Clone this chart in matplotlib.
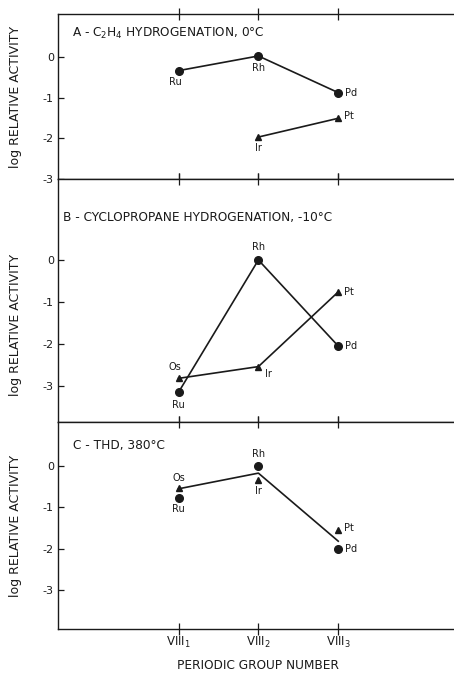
import matplotlib
matplotlib.use("Agg")
import matplotlib.pyplot as plt

# Gruppen VIII1, VIII2, VIII3
gruppen = [1, 2, 3]
gruppen_namen = ["VIII$_1$", "VIII$_2$", "VIII$_3$"]

# A - C2H4 Hydrierung, 0 C
a_kreis_metalle = ["Ru", "Rh", "Pd"]
a_kreis_werte = [-0.34, 0.02, -0.88]
a_dreieck_metalle = ["Ir", "Pt"]
a_dreieck_gruppen = [2, 3]
a_dreieck_werte = [-1.97, -1.51]

# B - Cyclopropan Hydrierung, -10 C
b_kreis_metalle = ["Ru", "Rh", "Pd"]
b_kreis_werte = [-3.15, 0.0, -2.05]
b_dreieck_metalle = ["Os", "Ir", "Pt"]
b_dreieck_werte = [-2.82, -2.54, -0.76]

# C - THD, 380 C
c_kreis_metalle = ["Ru", "Rh", "Pd"]
c_kreis_werte = [-0.77, 0.0, -2.02]
c_dreieck_metalle = ["Os", "Ir", "Pt"]
c_dreieck_werte = [-0.52, -0.34, -1.54]
c_linie_werte = [-0.55, -0.17, -1.82]

y_ticks = [0, -1, -2, -3]

plt.rcParams["font.family"] = ["DejaVu Sans"]
plt.rcParams["font.size"] = 7.5
farbe = "#1a1a1a"

fig = plt.figure(figsize=(4.54, 6.74), dpi=100)
links = 58 / 454
breite = 1 - links
ax_a = fig.add_axes([links, 1 - 179 / 674, breite, 165 / 674])
ax_b = fig.add_axes([links, 1 - 422 / 674, breite, 243 / 674])
ax_c = fig.add_axes([links, 1 - 629 / 674, breite, 207 / 674])


def achse(ax, ylim, ylabel_y):
    ax.set_xlim(-0.51, 4.45)
    ax.set_ylim(*ylim)
    ax.spines["right"].set_visible(False)
    for s in ax.spines.values():
        s.set_linewidth(1.0)
        s.set_color(farbe)
    ax.set_yticks(y_ticks)
    ax.set_yticklabels([str(t) for t in y_ticks])
    ax.tick_params(axis="y", direction="in", length=4, width=0.9, pad=3,
                   labelsize=8, colors=farbe)
    ax.set_xticks(gruppen)
    ax.tick_params(axis="x", direction="inout", length=8, width=0.9,
                   top=True, bottom=True, labelbottom=False, colors=farbe)
    ax.set_ylabel("log RELATIVE ACTIVITY", fontsize=9, color=farbe)
    ax.yaxis.set_label_coords(-0.09, ylabel_y)


def beschrifte(ax, xs, ys, namen, versatz):
    for x, y, n, (dx, dy) in zip(xs, ys, namen, versatz):
        ax.annotate(n, (x, y), xytext=(dx, dy), textcoords="offset points",
                    ha="center", va="center", fontsize=7, color=farbe)


kreis = dict(marker="o", markersize=5.5, color=farbe, linestyle="none")
dreieck = dict(marker="^", markersize=5, color=farbe, linestyle="none")
linie = dict(color=farbe, linewidth=1.2)

# Panel A
achse(ax_a, (-3, 1.05), 0.5)
ax_a.plot(gruppen, a_kreis_werte, **linie)
ax_a.plot(a_dreieck_gruppen, a_dreieck_werte, **linie)
ax_a.plot(gruppen, a_kreis_werte, **kreis)
ax_a.plot(a_dreieck_gruppen, a_dreieck_werte, **dreieck)
beschrifte(ax_a, gruppen, a_kreis_werte, a_kreis_metalle,
           [(-2, -8), (0, -9), (9, 0)])
beschrifte(ax_a, a_dreieck_gruppen, a_dreieck_werte, a_dreieck_metalle,
           [(0, -8), (8, 2)])
ax_a.text(0.035, 0.885, "A - C$_2$H$_4$ HYDROGENATION, 0°C",
          transform=ax_a.transAxes, ha="left", va="center", fontsize=8.7, color=farbe)

# Panel B
achse(ax_b, (-3.86, 1.93), 0.4)
ax_b.plot(gruppen[:2], b_kreis_werte[:2], **linie)
ax_b.plot(gruppen[1:], b_kreis_werte[1:], **linie)
ax_b.plot(gruppen, b_dreieck_werte, **linie)
ax_b.plot(gruppen, b_kreis_werte, **kreis)
ax_b.plot(gruppen, b_dreieck_werte, **dreieck)
beschrifte(ax_b, gruppen, b_kreis_werte, b_kreis_metalle,
           [(0, -9), (0, 9), (9, 0)])
beschrifte(ax_b, gruppen, b_dreieck_werte, b_dreieck_metalle,
           [(-3, 8), (7, -5), (8, 0)])
ax_b.text(0.013, 0.84, "B - CYCLOPROPANE HYDROGENATION, -10°C",
          transform=ax_b.transAxes, ha="left", va="center", fontsize=8.7, color=farbe)

# Panel C
achse(ax_c, (-3.95, 1.07), 0.5)
ax_c.plot(gruppen, c_linie_werte, **linie)
ax_c.plot(gruppen, c_kreis_werte, **kreis)
ax_c.plot(gruppen, c_dreieck_werte, **dreieck)
beschrifte(ax_c, gruppen, c_kreis_werte, c_kreis_metalle,
           [(0, -8), (0, 9), (9, 0)])
beschrifte(ax_c, gruppen, c_dreieck_werte, c_dreieck_metalle,
           [(0, 7), (0, -8), (8, 1)])
ax_c.text(0.037, 0.888, "C - THD, 380°C",
          transform=ax_c.transAxes, ha="left", va="center", fontsize=8.7, color=farbe)
ax_c.tick_params(axis="x", labelbottom=True, labelsize=8.5, pad=0)
ax_c.set_xticklabels(gruppen_namen)
ax_c.set_xlabel("PERIODIC GROUP NUMBER", fontsize=8.7, color=farbe)
ax_c.xaxis.set_label_coords((2 + 0.51) / 4.96, -0.145)

fig.savefig("out.png", dpi=100)
